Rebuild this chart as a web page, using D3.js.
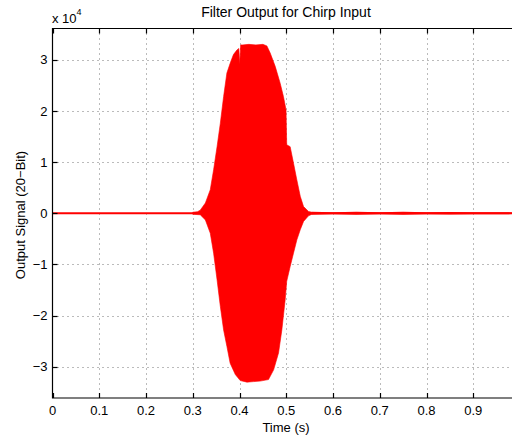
<!DOCTYPE html>
<html>
<head>
<meta charset="utf-8">
<script src="https://cdn.jsdelivr.net/npm/d3@7"></script>
<style>
  body { margin: 0; background: #fff; }
  svg { display: block; font-family: "Liberation Sans", Arial, sans-serif; }
</style>
</head>
<body>
<svg id="chart" width="512" height="439"></svg>
<script>
// tick values
const xTicks = [0, 0.1, 0.2, 0.3, 0.4, 0.5, 0.6, 0.7, 0.8, 0.9, 1.0];
const yTicks = [-3, -2, -1, 0, 1, 2, 3];

// upper envelope of the filtered chirp, [time s, value x 1e4]
const upperEnv = [
  [0.300, 0.02], [0.310, 0.03], [0.316, 0.06], [0.327, 0.20], [0.3375, 0.46],
  [0.3446, 0.85], [0.352, 1.30], [0.359, 1.76], [0.366, 2.28], [0.373, 2.74],
  [0.380, 2.93], [0.387, 3.10], [0.3945, 3.19], [0.3985, 3.22], [0.4005, 2.92],
  [0.4025, 3.29], [0.407, 3.29], [0.420, 3.30], [0.435, 3.29], [0.450, 3.30],
  [0.4586, 3.27], [0.4657, 3.13], [0.4764, 2.87], [0.487, 2.54], [0.494, 2.28],
  [0.4995, 2.02], [0.501, 1.34], [0.5084, 1.30], [0.5155, 0.98], [0.5227, 0.65],
  [0.530, 0.33], [0.537, 0.13], [0.5476, 0.035], [0.555, 0.02]
];

// lower envelope, [time s, value x 1e4]
const lowerEnv = [
  [0.300, -0.02], [0.316, -0.03], [0.327, -0.13], [0.3375, -0.39], [0.3446, -0.78],
  [0.352, -1.30], [0.359, -1.82], [0.366, -2.28], [0.373, -2.60], [0.380, -2.93],
  [0.391, -3.15], [0.4016, -3.27], [0.416, -3.30], [0.430, -3.29], [0.444, -3.28],
  [0.462, -3.25], [0.473, -3.06], [0.4835, -2.73], [0.4906, -2.28], [0.4977, -1.69],
  [0.501, -1.33], [0.5084, -1.04], [0.5155, -0.78], [0.5227, -0.52], [0.530, -0.32],
  [0.537, -0.16], [0.5476, -0.05], [0.555, -0.02]
];

// small residual ripple after the burst, [time s, amplitude x 1e4]
const tailRipple = [
  [0.555, 0.03], [0.60, 0.02], [0.65, 0.03], [0.70, 0.02], [0.75, 0.03],
  [0.80, 0.02], [0.85, 0.025], [0.90, 0.02], [0.95, 0.02], [1.0, 0.015]
];

const svg = d3.select('#chart');
const plot = { left: 52.5, right: 520, top: 28.5, bottom: 398 };

const x = d3.scaleLinear().domain([0, 1]).range([plot.left, plot.right]);
const y = d3.scaleLinear().domain([-3.61, 3.61]).range([plot.bottom, plot.top]);

const fmtMinus = v => String(v).replace('-', '\u2212');

// grid (dotted, MATLAB style)
const grid = svg.append('g').attr('stroke', '#777').attr('stroke-width', 1)
  .attr('stroke-dasharray', '1,4');
grid.selectAll('.gx').data(xTicks.filter(t => t > 0)).join('line')
  .attr('x1', d => Math.round(x(d)) + 0.5).attr('x2', d => Math.round(x(d)) + 0.5)
  .attr('y1', plot.top).attr('y2', plot.bottom);
grid.selectAll('.gy').data(yTicks).join('line')
  .attr('x1', plot.left).attr('x2', plot.right)
  .attr('y1', d => Math.round(y(d)) + 0.5).attr('y2', d => Math.round(y(d)) + 0.5);

// signal: baseline, tail ripple, burst envelope
const line = d3.line().x(d => x(d[0])).y(d => y(d[1]));

svg.append('line')
  .attr('x1', x(0)).attr('x2', x(1))
  .attr('y1', y(0)).attr('y2', y(0))
  .attr('stroke', '#ff0000').attr('stroke-width', 1.8);

const ripple = tailRipple.concat(tailRipple.map(d => [d[0], -d[1]]).reverse());
svg.append('path')
  .attr('d', line(ripple) + 'Z')
  .attr('fill', '#ff0000');

const burst = upperEnv.concat(lowerEnv.slice().reverse());
svg.append('path')
  .attr('d', line(burst) + 'Z')
  .attr('fill', '#ff0000')
  .attr('stroke', '#ff0000')
  .attr('stroke-width', 0.6);

// axes box (left, top, bottom) and inward ticks
const axes = svg.append('g').attr('stroke', '#000').attr('stroke-width', 1.2);
axes.append('path')
  .attr('fill', 'none')
  .attr('d', `M${plot.right},${plot.top}H${plot.left}V${plot.bottom}H${plot.right}`);
axes.selectAll('.tb').data(xTicks).join('path')
  .attr('d', d => {
    const px = Math.round(x(d)) + 0.5;
    return `M${px},${plot.bottom}v-5M${px},${plot.top}v5`;
  });
axes.selectAll('.tl').data(yTicks).join('path')
  .attr('d', d => `M${plot.left},${Math.round(y(d)) + 0.5}h5`);

// tick labels
svg.append('g').selectAll('text').data(xTicks.filter(t => t < 1)).join('text')
  .attr('x', d => x(d)).attr('y', 415)
  .attr('text-anchor', 'middle').attr('font-size', 13)
  .text(d => d);

svg.append('g').selectAll('text').data(yTicks).join('text')
  .attr('x', 47.5).attr('y', d => y(d)).attr('dy', '0.36em')
  .attr('text-anchor', 'end').attr('font-size', 13)
  .text(d => fmtMinus(d));

// exponent marker
const expo = svg.append('text').attr('x', 52).attr('y', 22.5).attr('font-size', 13);
expo.append('tspan').text('x 10');
expo.append('tspan').attr('font-size', 9).attr('dy', -8).text('4');

// titles
svg.append('text')
  .attr('x', 286).attr('y', 17)
  .attr('text-anchor', 'middle').attr('font-size', 14)
  .text('Filter Output for Chirp Input');

svg.append('text')
  .attr('x', 286).attr('y', 432)
  .attr('text-anchor', 'middle').attr('font-size', 13)
  .text('Time (s)');

svg.append('text')
  .attr('transform', 'translate(25,215) rotate(-90)')
  .attr('text-anchor', 'middle').attr('font-size', 13)
  .text('Output Signal (20\u2212Bit)');
</script>
</body>
</html>
